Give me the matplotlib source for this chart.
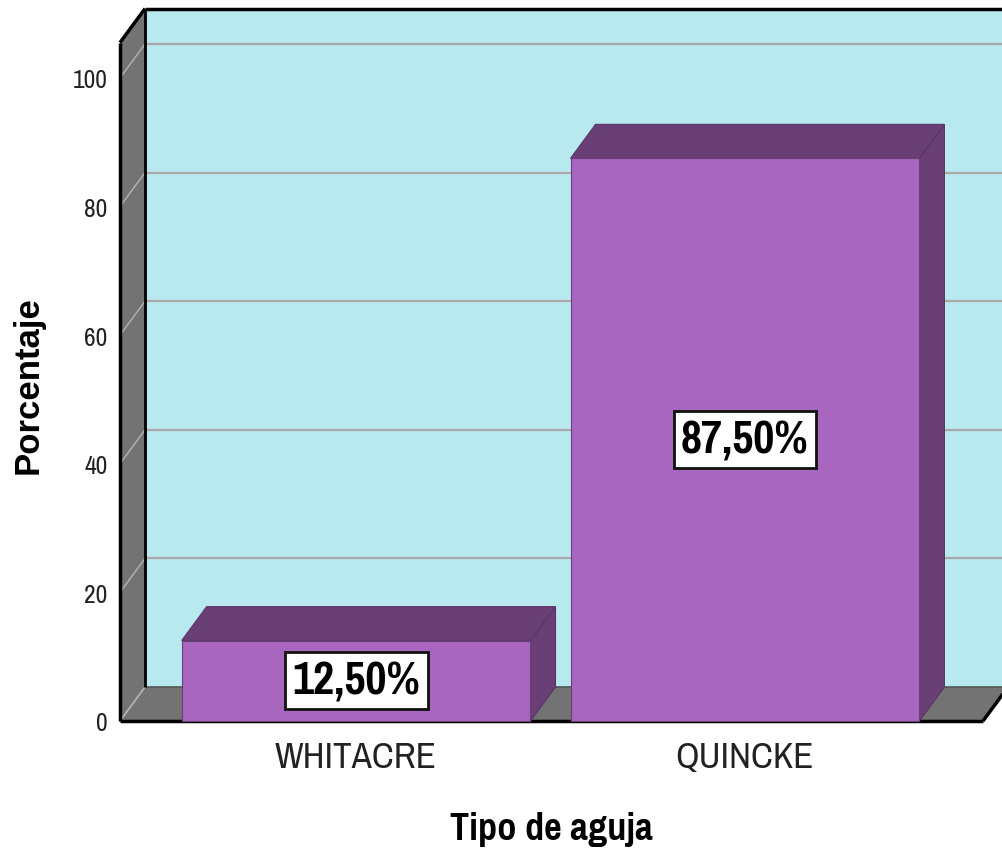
import matplotlib
matplotlib.use("Agg")
import matplotlib.pyplot as plt
from matplotlib.patches import Polygon, Rectangle
import numpy as np

# ---- data ----
categories = ["WHITACRE", "QUINCKE"]
percentages = [12.5, 87.5]
value_labels = ["12,50%", "87,50%"]
y_ticks = [0, 20, 40, 60, 80, 100]
x_title = "Tipo de aguja"
y_title = "Porcentaje"

# ---- style ----
NARROW = ["Pragati Narrow", "Liberation Sans", "DejaVu Sans"]
REG = ["Liberation Sans", "DejaVu Sans"]

C_BACK = "#b7e9ef"
C_WALL = "#737373"
C_BAR = "#a866be"
C_BAR_DARK = "#6a3f76"
C_GRID = "#a9a9a9"
C_GRID_WALL = "#b4b4b4"
DX, DY = 25, 34  # depth offset in pixels

W, H = 1003, 854
fig = plt.figure(figsize=(W / 100, H / 100), dpi=100)
ax = fig.add_axes([120 / W, 132 / H, 863 / W, 678.4 / H])
x0, x1 = -0.607, 1.612
y0, y1 = 0, 105.5
ax.set_xlim(x0, x1)
ax.set_ylim(y0, y1)
for s in ax.spines.values():
    s.set_visible(False)
ax.patch.set_visible(False)


def back(x, y):
    d = ax.transData.transform((x, y)) + np.array([DX, DY])
    return tuple(ax.transData.inverted().transform(d))


def poly(pts, fc, ec="none", lw=0, z=1):
    p = Polygon(pts, closed=True, facecolor=fc, edgecolor=ec, linewidth=lw,
                zorder=z, clip_on=False, joinstyle="miter")
    ax.add_patch(p)
    return p


def line(p, q, color, lw, z):
    ax.plot([p[0], q[0]], [p[1], q[1]], color=color, lw=lw, zorder=z,
            clip_on=False, solid_capstyle="butt")


# back wall
poly([back(x0, y0), back(x1, y0), back(x1, y1), back(x0, y1)], C_BACK, z=1)
for v in y_ticks[1:]:
    line(back(x0, v), back(x1, v), C_GRID, 1.6, 2)
line(back(x0, y1), back(x1, y1), "black", 2.5, 3)
# left wall
poly([(x0, y0), (x0, y1), back(x0, y1), back(x0, y0)], C_WALL, z=4)
for v in y_ticks:
    line((x0, v), back(x0, v), C_GRID_WALL, 1.0, 5)
line(back(x0, y0), back(x0, y1), "black", 2.0, 6)
line((x0, y1), back(x0, y1), "black", 2.5, 6)
line((x0, y0), (x0, y1), "black", 2.5, 6)
# floor
poly([(x0, y0), (x1, y0), back(x1, y0), back(x0, y0)], C_WALL, z=4)
line(back(x0, y0), back(x1, y0), "#555555", 1.2, 5)
line((x0, y0), (x1, y0), "black", 2.5, 6)
line((x1, y0), back(x1, y0), "black", 2.5, 6)
line((x0, y0), back(x0, y0), C_GRID_WALL, 1.0, 5)

# bars
bw = 0.897
for i, v in enumerate(percentages):
    xl, xr = i - bw / 2, i + bw / 2
    poly([(xr, 0), (xr, v), back(xr, v), back(xr, 0)], C_BAR_DARK, "#5a3366", 0.8, 7)
    poly([(xl, v), (xr, v), back(xr, v), back(xl, v)], C_BAR_DARK, "#5a3366", 0.8, 7)
    ax.add_patch(Rectangle((xl, 0), bw, v, facecolor=C_BAR, edgecolor="#6a3f76",
                           linewidth=0.8, zorder=8, clip_on=False))
    ax.text(i, v / 2, value_labels[i], ha="center", va="center",
            fontsize=36, fontweight="bold", family=NARROW,
            zorder=10,
            bbox=dict(boxstyle="square,pad=0.15", facecolor="white",
                      edgecolor="#111111", linewidth=2))

ax.set_xticks(range(len(categories)))
ax.set_xticklabels(categories, fontsize=29, family=NARROW, color="#222222")
ax.set_yticks(y_ticks)
ax.set_yticklabels([str(t) for t in y_ticks], fontsize=20, family=NARROW,
                   color="#222222")
ax.tick_params(axis="x", length=0, pad=14)
ax.tick_params(axis="y", length=0, pad=9)

fig.text(551 / W, 1 - 830 / H, x_title, ha="center", va="center", fontsize=30,
         fontweight="bold", family=NARROW)
fig.text(28 / W, 1 - 385 / H, y_title, ha="center", va="center", rotation=90,
         fontsize=25, fontweight="bold", family=REG)

fig.savefig("out.png", dpi=100, facecolor="white")
